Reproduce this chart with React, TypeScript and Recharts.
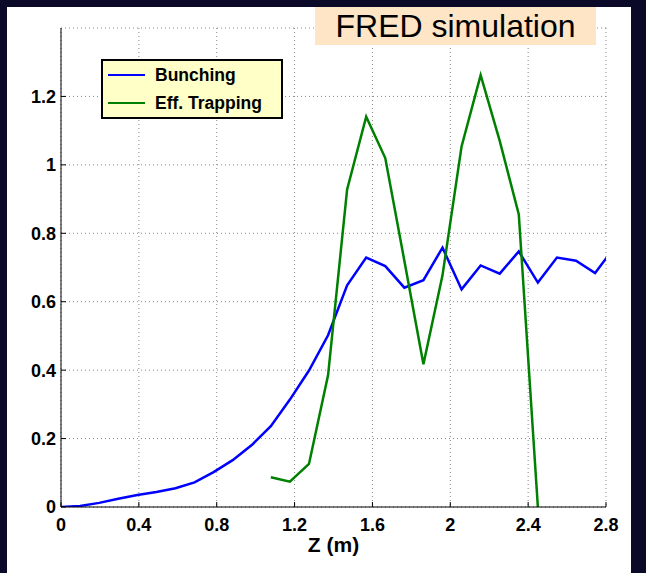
import { CartesianGrid, Legend, Line, LineChart, XAxis, YAxis } from "recharts";

// sample positions along the undulator (m)
const zPositions = [
  0, 0.098, 0.196, 0.294, 0.392, 0.49, 0.588, 0.686, 0.784, 0.882, 0.98, 1.078, 1.176, 1.274, 1.372,
  1.47, 1.568, 1.666, 1.764, 1.862, 1.96, 2.058, 2.156, 2.254, 2.352, 2.45, 2.548, 2.646, 2.744, 2.842,
];

const bunching = [
  0, 0.003, 0.012, 0.024, 0.035, 0.044, 0.055, 0.072, 0.102, 0.137, 0.181, 0.236, 0.314, 0.399, 0.502,
  0.648, 0.729, 0.704, 0.641, 0.663, 0.758, 0.636, 0.706, 0.682, 0.747, 0.656, 0.729, 0.72, 0.684, 0.758,
];

const trapping = [
  null, null, null, null, null, null, null, null, null, null, null, 0.087, 0.074, 0.126, 0.385,
  0.928, 1.141, 1.02, 0.72, 0.417, 0.677, 1.054, 1.262, 1.07, 0.855, 0, null, null, null, null,
];

const xTicks = [0, 0.4, 0.8, 1.2, 1.6, 2, 2.4, 2.8];
const yTicks = [0, 0.2, 0.4, 0.6, 0.8, 1, 1.2];

const data = zPositions.map((z, i) => ({ z, bunching: bunching[i], trapping: trapping[i] }));

const FONT = '"Liberation Sans", Arial, Helvetica, sans-serif';
const tickStyle = { fill: "#000", fontSize: 18, fontWeight: 700, fontFamily: FONT };

function LegendBox({ payload }: any) {
  return (
    <div
      style={{
        width: 178,
        height: 56,
        background: "#ffffc8",
        border: "2px solid #000",
        fontFamily: FONT,
        fontWeight: 700,
        fontSize: 17.5,
        color: "#000",
      }}
    >
      {(payload || []).map((entry: any) => (
        <div key={entry.value} style={{ display: "flex", alignItems: "center", height: 28 }}>
          <span
            style={{
              display: "inline-block",
              width: 37,
              height: 2.5,
              background: entry.color,
              marginLeft: 5,
              marginRight: 10,
            }}
          />
          <span>{entry.value}</span>
        </div>
      ))}
    </div>
  );
}

export default function App() {
  return (
    <div style={{ position: "absolute", left: 0, top: 0, width: 646, height: 573, background: "#0a0a28" }}>
      <div style={{ position: "absolute", left: 7, top: 7, width: 624, height: 566, background: "#fff" }} />
      <div style={{ position: "absolute", left: 0, top: 0 }}>
        <LineChart width={646} height={573} data={data} margin={{ top: 28, right: 40, left: 0, bottom: 36 }}>
          <CartesianGrid stroke="#888" strokeDasharray="1 3" />
          <XAxis
            dataKey="z"
            type="number"
            domain={[0, 2.8]}
            ticks={xTicks}
            interval={0}
            allowDataOverflow
            height={30}
            axisLine={{ stroke: "#000" }}
            tickLine={{ stroke: "#000" }}
            tickSize={-5}
            tickMargin={16}
            tick={tickStyle}
            tickFormatter={(v) => String(v)}
            label={{ value: "Z (m)", position: "bottom", offset: 0, fill: "#000", fontSize: 21, fontWeight: 700, fontFamily: FONT }}
          />
          <YAxis
            type="number"
            domain={[0, 1.4]}
            ticks={yTicks}
            interval={0}
            allowDataOverflow
            width={61}
            axisLine={{ stroke: "#000" }}
            tickLine={{ stroke: "#000" }}
            tickSize={-5}
            tickMargin={10}
            tick={tickStyle}
            tickFormatter={(v) => String(v)}
          />
          <Legend
            layout="vertical"
            align="center"
            verticalAlign="middle"
            content={LegendBox}
            wrapperStyle={{ left: 101, top: 59, width: "auto", height: "auto" }}
          />
          <Line
            type="linear"
            dataKey="bunching"
            name="Bunching"
            stroke="#0000ff"
            strokeWidth={2.5}
            dot={false}
            isAnimationActive={false}
          />
          <Line
            type="linear"
            dataKey="trapping"
            name="Eff. Trapping"
            stroke="#008000"
            strokeWidth={2.5}
            dot={false}
            isAnimationActive={false}
          />
        </LineChart>
      </div>
      <div
        style={{
          position: "absolute",
          left: 315,
          top: 7,
          width: 281,
          height: 38,
          background: "#fde5c6",
          fontFamily: FONT,
          fontSize: 32,
          lineHeight: "38px",
          textAlign: "center",
          color: "#000",
        }}
      >
        FRED simulation
      </div>
    </div>
  );
}
